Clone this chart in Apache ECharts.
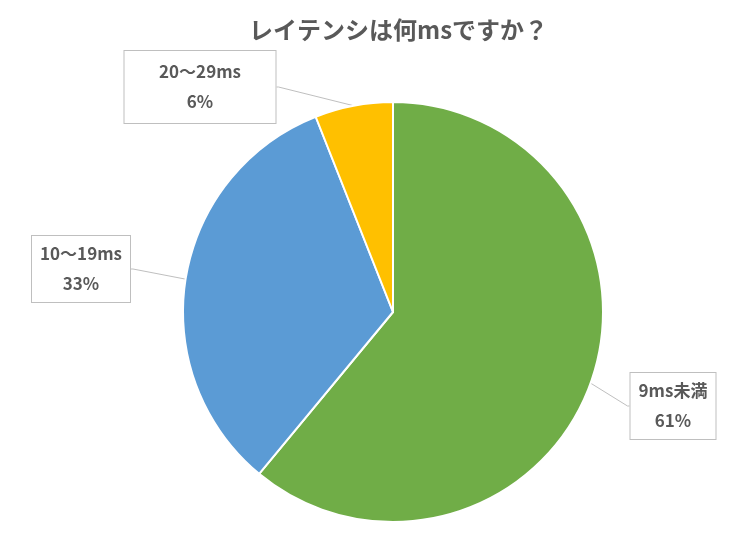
<!DOCTYPE html>
<html>
<head>
<meta charset="utf-8">
<script src="https://cdn.jsdelivr.net/npm/echarts@6/dist/echarts.min.js"></script>
<style>
  html, body { margin: 0; padding: 0; background: #fff; }
  #main { width: 748px; height: 541px; }
</style>
</head>
<body>
<div id="main"></div>
<script>
// データ
var categories = ['9ms未満', '10〜19ms', '20〜29ms'];
var values = [61, 33, 6];
var colors = ['#70AD47', '#5B9BD5', '#FFC000'];

// ラベルの箱の位置（中心）と大きさ
var labelBoxes = [
    { x: 673, y: 406, w: 79, pad: [3, 3] },
    { x: 81, y: 269, w: 92, pad: [3, 3] },
    { x: 200, y: 87, w: 131, pad: [6, 10] }
];

var myChart = echarts.init(document.getElementById('main'));

var pieData = categories.map(function (name, i) {
    return {
        name: name,
        value: values[i],
        itemStyle: { color: colors[i] },
        label: { width: labelBoxes[i].w, padding: labelBoxes[i].pad }
    };
});

var option = {
    backgroundColor: '#fff',
    title: {
        text: 'レイテンシは何msですか？',
        left: 244,
        top: 13,
        textStyle: {
            fontFamily: 'Noto Sans CJK JP',
            fontSize: 24,
            fontWeight: 'bold',
            color: '#595959'
        }
    },
    series: [{
        type: 'pie',
        center: [393, 312],
        radius: 210,
        startAngle: 90,
        clockwise: true,
        animation: false,
        data: pieData,
        itemStyle: { borderColor: '#fff', borderWidth: 2 },
        label: {
            show: true,
            formatter: '{b}\n{d}%',
            fontFamily: 'Noto Sans CJK JP',
            fontSize: 17,
            fontWeight: 'bold',
            color: '#595959',
            lineHeight: 30,
            align: 'center',
            backgroundColor: '#fff',
            borderColor: '#bfbfbf',
            borderWidth: 1
        },
        labelLine: {
            show: true,
            length: 2,
            length2: 2,
            lineStyle: { color: '#bfbfbf', width: 1 }
        },
        labelLayout: function (params) {
            var b = labelBoxes[params.dataIndex];
            return {
                x: b.x,
                y: b.y,
                align: 'center',
                verticalAlign: 'middle'
            };
        }
    }]
};

myChart.setOption(option);
</script>
</body>
</html>
